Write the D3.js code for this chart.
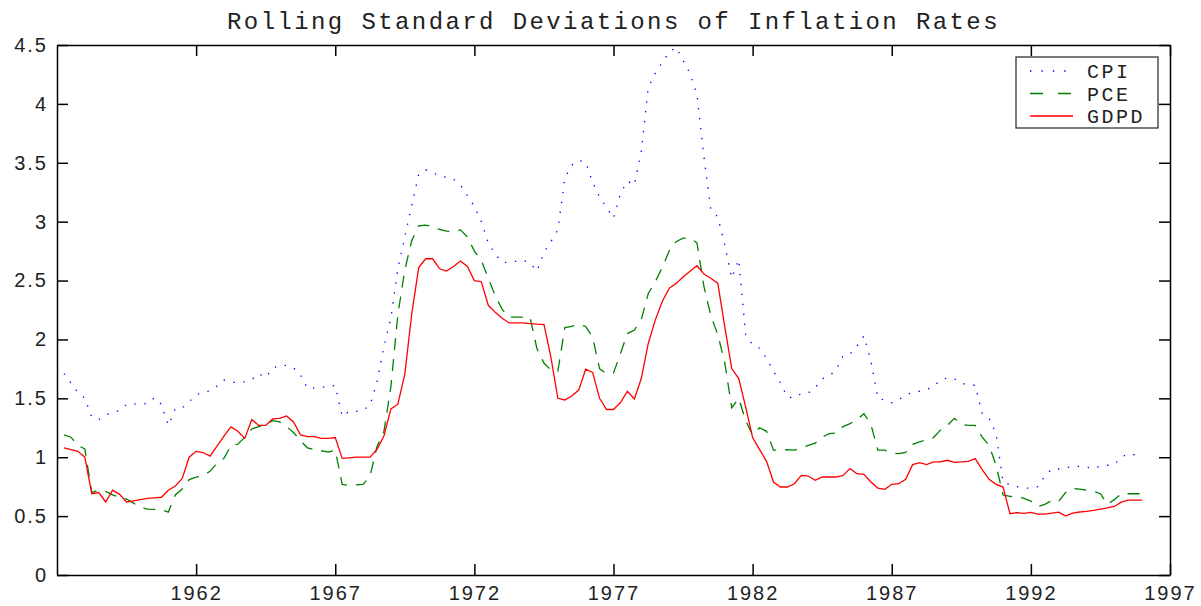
<!DOCTYPE html>
<html>
<head>
<meta charset="utf-8">
<script src="https://cdn.jsdelivr.net/npm/d3@7"></script>
<style>
  html, body { margin: 0; padding: 0; background: #fff; }
  svg { display: block; font-family: "Liberation Mono", "DejaVu Sans Mono", monospace; }
  .axis path, .axis line { stroke: #000; stroke-width: 1.5; }
  .axis text { font-size: 20px; fill: #222; letter-spacing: 2px; }
</style>
</head>
<body>
<div id="chart"></div>
<script>
// quarterly observations, 1957Q2 .. 1996Q1
const quarters = [
  1957.25, 1957.5, 1957.75,
  1958, 1958.25, 1958.5, 1958.75,
  1959, 1959.25, 1959.5, 1959.75,
  1960, 1960.25, 1960.5, 1960.75,
  1961, 1961.25, 1961.5, 1961.75,
  1962, 1962.25, 1962.5, 1962.75,
  1963, 1963.25, 1963.5, 1963.75,
  1964, 1964.25, 1964.5, 1964.75,
  1965, 1965.25, 1965.5, 1965.75,
  1966, 1966.25, 1966.5, 1966.75,
  1967, 1967.25, 1967.5, 1967.75,
  1968, 1968.25, 1968.5, 1968.75,
  1969, 1969.25, 1969.5, 1969.75,
  1970, 1970.25, 1970.5, 1970.75,
  1971, 1971.25, 1971.5, 1971.75,
  1972, 1972.25, 1972.5, 1972.75,
  1973, 1973.25, 1973.5, 1973.75,
  1974, 1974.25, 1974.5, 1974.75,
  1975, 1975.25, 1975.5, 1975.75,
  1976, 1976.25, 1976.5, 1976.75,
  1977, 1977.25, 1977.5, 1977.75,
  1978, 1978.25, 1978.5, 1978.75,
  1979, 1979.25, 1979.5, 1979.75,
  1980, 1980.25, 1980.5, 1980.75,
  1981, 1981.25, 1981.5, 1981.75,
  1982, 1982.25, 1982.5, 1982.75,
  1983, 1983.25, 1983.5, 1983.75,
  1984, 1984.25, 1984.5, 1984.75,
  1985, 1985.25, 1985.5, 1985.75,
  1986, 1986.25, 1986.5, 1986.75,
  1987, 1987.25, 1987.5, 1987.75,
  1988, 1988.25, 1988.5, 1988.75,
  1989, 1989.25, 1989.5, 1989.75,
  1990, 1990.25, 1990.5, 1990.75,
  1991, 1991.25, 1991.5, 1991.75,
  1992, 1992.25, 1992.5, 1992.75,
  1993, 1993.25, 1993.5, 1993.75,
  1994, 1994.25, 1994.5, 1994.75,
  1995, 1995.25, 1995.5, 1995.75,
  1996
];

const cpi = [
  1.71, 1.63, 1.55,
  1.50, 1.34, 1.32, 1.36,
  1.38, 1.396, 1.45, 1.45,
  1.45, 1.456, 1.505, 1.45,
  1.27, 1.41, 1.418, 1.47,
  1.53, 1.55, 1.565, 1.605,
  1.655, 1.635, 1.637, 1.64,
  1.66, 1.71, 1.677, 1.755,
  1.78, 1.78, 1.76, 1.70,
  1.585, 1.588, 1.593, 1.60,
  1.609, 1.345, 1.39, 1.39,
  1.40, 1.44, 1.64, 1.94,
  2.18, 2.60, 2.87, 3.14,
  3.40, 3.44, 3.42, 3.385,
  3.378, 3.36, 3.31, 3.22,
  3.13, 3.00, 2.82, 2.725,
  2.655, 2.655, 2.665, 2.672,
  2.65, 2.58, 2.74, 2.83,
  2.93, 3.37, 3.48, 3.52,
  3.505, 3.335, 3.21, 3.12,
  3.03, 3.24, 3.345, 3.31,
  3.60, 4.14, 4.26, 4.35,
  4.44, 4.48, 4.37, 4.256,
  4.08, 3.55, 3.10, 3.04,
  2.80, 2.52, 2.68, 2.04,
  1.955, 1.925, 1.84, 1.73,
  1.63, 1.51, 1.505, 1.54,
  1.546, 1.59, 1.665, 1.69,
  1.74, 1.86, 1.875, 1.945,
  2.03, 1.82, 1.50, 1.485,
  1.462, 1.49, 1.525, 1.553,
  1.56, 1.575, 1.60, 1.655,
  1.673, 1.665, 1.63, 1.611,
  1.611, 1.37, 1.33, 1.20,
  0.79, 0.765, 0.75, 0.74,
  0.736, 0.75, 0.84, 0.90,
  0.90, 0.91, 0.923, 0.923,
  0.915, 0.905, 0.925, 0.932,
  0.94, 1.00, 1.03, 1.02,
  1.005
];

const pce = [
  1.19, 1.17, 1.10,
  1.07, 0.70, 0.72, 0.71,
  0.68, 0.66, 0.645, 0.61,
  0.575, 0.56, 0.557, 0.555,
  0.534, 0.68, 0.73, 0.81,
  0.83, 0.845, 0.88, 0.95,
  0.99, 1.10, 1.11, 1.17,
  1.24, 1.26, 1.28, 1.31,
  1.30, 1.26, 1.21, 1.14,
  1.08, 1.065, 1.055, 1.044,
  1.06, 0.77, 0.76, 0.765,
  0.77, 0.84, 1.09, 1.22,
  1.60, 2.21, 2.59, 2.84,
  2.965, 2.97, 2.96, 2.935,
  2.92, 2.915, 2.93, 2.87,
  2.75, 2.67, 2.52, 2.37,
  2.255, 2.19, 2.19, 2.19,
  2.187, 1.92, 1.80, 1.74,
  1.73, 2.10, 2.11, 2.13,
  2.11, 2.02, 1.75, 1.71,
  1.716, 1.88, 2.05, 2.08,
  2.17, 2.39, 2.49, 2.61,
  2.75, 2.83, 2.86, 2.86,
  2.82, 2.45, 2.20, 2.04,
  1.80, 1.42, 1.50, 1.31,
  1.19, 1.25, 1.22, 1.06,
  1.06, 1.065, 1.06, 1.08,
  1.10, 1.12, 1.17, 1.20,
  1.206, 1.26, 1.285, 1.32,
  1.37, 1.28, 1.06, 1.06,
  1.035, 1.03, 1.04, 1.11,
  1.13, 1.15, 1.167, 1.23,
  1.27, 1.33, 1.28, 1.27,
  1.271, 1.17, 1.10, 0.93,
  0.68, 0.667, 0.665, 0.65,
  0.628, 0.58, 0.60, 0.633,
  0.625, 0.70, 0.735, 0.73,
  0.72, 0.71, 0.69, 0.60,
  0.64, 0.69, 0.69, 0.69,
  0.69
];

const gdpd = [
  1.08, 1.065, 1.05,
  1.00, 0.69, 0.70, 0.62,
  0.72, 0.685, 0.62, 0.63,
  0.64, 0.65, 0.655, 0.66,
  0.72, 0.755, 0.82, 1.00,
  1.05, 1.04, 1.01, 1.095,
  1.18, 1.257, 1.22, 1.16,
  1.32, 1.27, 1.27, 1.325,
  1.33, 1.35, 1.30, 1.19,
  1.175, 1.175, 1.16, 1.16,
  1.167, 0.99, 0.995, 1.00,
  1.00, 1.00, 1.067, 1.18,
  1.41, 1.45, 1.705, 2.22,
  2.61, 2.685, 2.685, 2.60,
  2.58, 2.62, 2.666, 2.62,
  2.50, 2.49, 2.29, 2.23,
  2.18, 2.14, 2.14, 2.14,
  2.135, 2.13, 2.127, 1.85,
  1.50, 1.486, 1.52, 1.57,
  1.747, 1.72, 1.50, 1.405,
  1.405, 1.464, 1.56, 1.495,
  1.67, 1.966, 2.164, 2.32,
  2.434, 2.476, 2.53, 2.58,
  2.626, 2.555, 2.52, 2.476,
  2.107, 1.753, 1.668, 1.427,
  1.167, 1.065, 0.965, 0.789,
  0.747, 0.747, 0.775, 0.846,
  0.84, 0.804, 0.832, 0.832,
  0.832, 0.846, 0.903, 0.86,
  0.855, 0.79, 0.738, 0.727,
  0.77, 0.775, 0.812, 0.937,
  0.954, 0.937, 0.96, 0.96,
  0.974, 0.957, 0.96, 0.965,
  0.988, 0.895, 0.812, 0.77,
  0.747, 0.52, 0.529, 0.523,
  0.531, 0.517, 0.517, 0.526,
  0.534, 0.50, 0.526, 0.535,
  0.54, 0.548, 0.56, 0.57,
  0.582, 0.619, 0.636, 0.636,
  0.636
];

const seriesNames = ['CPI', 'PCE', 'GDPD'];
const xTicks = [1962, 1967, 1972, 1977, 1982, 1987, 1992, 1997];
const yTicks = [0, 0.5, 1, 1.5, 2, 2.5, 3, 3.5, 4, 4.5];
const title = 'Rolling Standard Deviations of Inflation Rates';

const width = 1201, height = 606;
const margin = {top: 45, right: 31, bottom: 31, left: 57};

const styles = [
  {color: '#0000ff', dash: '1.4,8.6'},
  {color: '#008000', dash: '12,9'},
  {color: '#ff0000', dash: null}
];

const svg = d3.select('#chart').append('svg')
  .attr('width', width).attr('height', height);

const x = d3.scaleLinear().domain([1957, 1997]).range([margin.left, width - margin.right]);
const y = d3.scaleLinear().domain([0, 4.5]).range([height - margin.bottom, margin.top]);

svg.append('text')
  .attr('x', (margin.left + width - margin.right) / 2).attr('y', 29)
  .attr('text-anchor', 'middle')
  .style('font-size', '24px').style('letter-spacing', '2.4px').style('fill', '#222')
  .text(title);

// lines
const line = d3.line().x(d => x(d[0])).y(d => y(d[1]));
[cpi, pce, gdpd].forEach((vals, i) => {
  svg.append('path')
    .datum(quarters.map((q, j) => [q, vals[j]]))
    .attr('fill', 'none')
    .attr('stroke', styles[i].color)
    .attr('stroke-width', 1.3)
    .attr('stroke-dasharray', styles[i].dash)
    .attr('d', line);
});

// axes, ticks pointing inward on all four sides
const tick = 11;
svg.append('g').attr('class', 'axis')
  .attr('transform', 'translate(0,' + (height - margin.bottom) + ')')
  .call(d3.axisBottom(x).tickValues(xTicks).tickFormat(d3.format('d'))
    .tickSizeInner(-tick).tickSizeOuter(0).tickPadding(11));
svg.append('g').attr('class', 'axis')
  .attr('transform', 'translate(0,' + margin.top + ')')
  .call(d3.axisTop(x).tickValues(xTicks).tickFormat('')
    .tickSizeInner(-tick).tickSizeOuter(0));
svg.append('g').attr('class', 'axis')
  .attr('transform', 'translate(' + margin.left + ',0)')
  .call(d3.axisLeft(y).tickValues(yTicks).tickFormat(d => String(d))
    .tickSizeInner(-tick).tickSizeOuter(0).tickPadding(9));
svg.append('g').attr('class', 'axis')
  .attr('transform', 'translate(' + (width - margin.right) + ',0)')
  .call(d3.axisRight(y).tickValues(yTicks).tickFormat('')
    .tickSizeInner(-tick).tickSizeOuter(0));

// legend
const legend = svg.append('g').attr('transform', 'translate(1016,57)');
legend.append('rect')
  .attr('width', 142).attr('height', 71)
  .attr('fill', '#fff').attr('stroke', '#333').attr('stroke-width', 1.3);
seriesNames.forEach((name, i) => {
  const ly = 14 + i * 22.5;
  legend.append('line')
    .attr('x1', 14).attr('x2', 57).attr('y1', ly).attr('y2', ly)
    .attr('stroke', styles[i].color).attr('stroke-width', 1.3)
    .attr('stroke-dasharray', i === 0 ? '1.4,10' : (i === 1 ? '13,15' : null));
  legend.append('text')
    .attr('x', 71).attr('y', ly).attr('dy', '0.35em')
    .style('font-size', '20px').style('letter-spacing', '2.5px').style('fill', '#222')
    .text(name);
});
</script>
</body>
</html>
